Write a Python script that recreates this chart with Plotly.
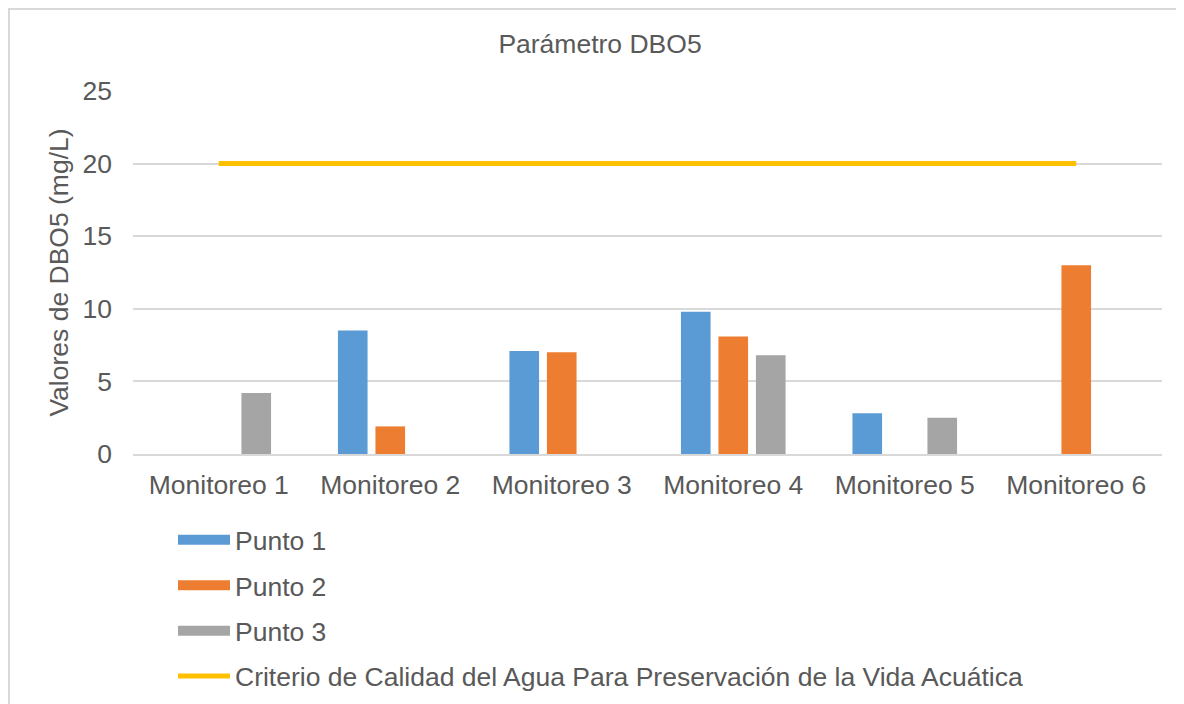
import plotly.graph_objects as go

# Data
monitoreos = ["Monitoreo 1", "Monitoreo 2", "Monitoreo 3", "Monitoreo 4", "Monitoreo 5", "Monitoreo 6"]
punto_1 = [None, 8.5, 7.1, 9.8, 2.8, None]
punto_2 = [None, 1.9, 7.0, 8.1, None, 13.0]
punto_3 = [4.2, None, None, 6.8, 2.5, None]
criterio = [20, 20, 20, 20, 20, 20]
y_ticks = [0, 5, 10, 15, 20, 25]

COLORS = {"Punto 1": "#5B9BD5", "Punto 2": "#ED7D31", "Punto 3": "#A5A5A5"}
LINE_COLOR = "#FFC000"
TEXT = "#595959"
GRID = "#D9D9D9"
FONT = "Liberation Sans, Arial, sans-serif"
FS = 26.5

# page body adds an 8px margin, so the figure is sized to the visible area
W, H = 1176, 696

fig = go.Figure()

for name, vals in [("Punto 1", punto_1), ("Punto 2", punto_2), ("Punto 3", punto_3)]:
    fig.add_trace(go.Bar(
        x=monitoreos, y=vals, name=name,
        marker=dict(color=COLORS[name], line=dict(width=0)),
        legendgroup=name, showlegend=False,
    ))
    # legend swatch: wide flat bar like the original
    fig.add_trace(go.Scatter(
        x=[None], y=[None], mode="lines", name=name,
        line=dict(color=COLORS[name], width=14),
        legendgroup=name, showlegend=True,
    ))

crit_name = "Criterio de Calidad del Agua Para Preservación de la Vida Acuática"
fig.add_trace(go.Scatter(
    x=monitoreos, y=criterio, mode="lines", name=crit_name,
    line=dict(color=LINE_COLOR, width=5),
    legendgroup="crit",
))

# outer chart frame (cropped at right/bottom in the original)
fig.add_shape(
    type="rect", xref="paper", yref="paper",
    x0=-0.1205, x1=1.2, y0=-0.72, y1=1.2259,
    line=dict(color=GRID, width=2), fillcolor="rgba(0,0,0,0)", layer="below",
)

fig.update_layout(
    width=W, height=H,
    margin=dict(l=125, r=22, t=83, b=250, autoexpand=False),
    paper_bgcolor="white", plot_bgcolor="white",
    font=dict(family=FONT, size=FS, color=TEXT),
    title=dict(text="Parámetro DBO5", x=592 / W, xref="container", xanchor="center",
               y=1 - 36 / H, yref="container", yanchor="middle",
               font=dict(size=FS, color=TEXT)),
    barmode="group", bargap=0.344, bargroupgap=0.21,
    xaxis=dict(showgrid=False, showline=True, linecolor=GRID, linewidth=2,
               ticks="", tickfont=dict(size=FS, color=TEXT), ticklabelstandoff=6),
    yaxis=dict(range=[0, 25], tickvals=y_ticks, showgrid=True, gridcolor=GRID, gridwidth=2,
               zeroline=False, showline=False, ticks="", tickfont=dict(size=FS, color=TEXT),
               ticklabelstandoff=20,
               title=dict(text="Valores de DBO5 (mg/L)", font=dict(size=FS, color=TEXT), standoff=6)),
    showlegend=True,
    legend=dict(orientation="v", x=(173 - 133) / 1029, xanchor="left",
                y=(454 - 516) / 363, yanchor="top", itemwidth=52,
                tracegroupgap=8, font=dict(size=FS, color=TEXT),
                bgcolor="rgba(0,0,0,0)"),
)

fig.write_html("out.html")
